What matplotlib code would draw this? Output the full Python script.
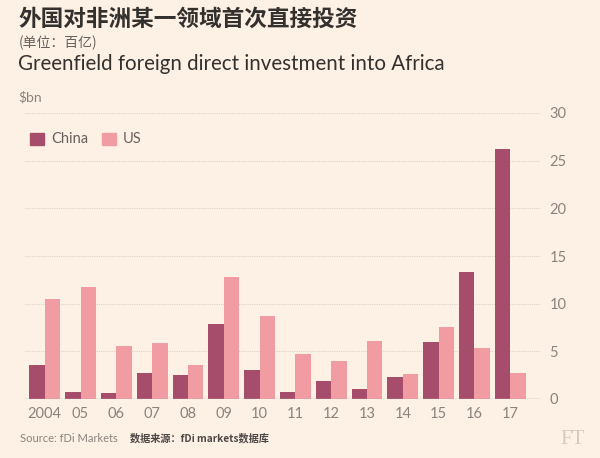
import numpy as np
import matplotlib.pyplot as plt
from matplotlib.patches import Rectangle

years = ['2004', '05', '06', '07', '08', '09', '10', '11', '12', '13', '14', '15', '16', '17']
china = [3.6, 0.7, 0.6, 2.7, 2.5, 7.9, 3.0, 0.7, 1.9, 1.0, 2.3, 6.0, 13.3, 26.2]
us = [10.5, 11.7, 5.6, 5.9, 3.6, 12.8, 8.7, 4.7, 4.0, 6.1, 2.6, 7.6, 5.4, 2.7]
yticks = [0, 5, 10, 15, 20, 25, 30]

bg = '#fdf1e5'
c_china = '#a64d6b'
c_us = '#f19ca3'
grey = '#8a837d'

plt.rcParams['font.family'] = ['Lato', 'Noto Sans CJK SC', 'DejaVu Sans']

fig = plt.figure(figsize=(6, 4.58), dpi=100, facecolor=bg)
ax = fig.add_axes([25 / 600, 59 / 458, 516 / 600, 286 / 458], facecolor=bg)

x = np.arange(len(years))
w = 0.43
ax.bar(x - w / 2, china, width=w, color=c_china, label='China')
ax.bar(x + w / 2, us, width=w, color=c_us, label='US')

ax.set_xlim(-0.55, 13.86)
ax.set_ylim(0, 30)
ax.set_yticks(yticks)
ax.set_xticks(x)
ax.set_xticklabels(years)
ax.yaxis.tick_right()
ax.tick_params(length=0, labelsize=10.5, colors=grey)
ax.tick_params(axis='y', pad=6)
ax.tick_params(axis='x', pad=6)
for s in ax.spines.values():
    s.set_visible(False)
ax.axhline(0, color='#b3aba4', lw=1, zorder=3)
for t in yticks[1:]:
    ax.axhline(t, color='#ddd3ca', lw=0.8, ls=(0, (1, 1)), zorder=0)

# legend
fig.patches.append(Rectangle((30 / 600, 1 - 145 / 458), 14 / 600, 12 / 458,
                             transform=fig.transFigure, color=c_china))
fig.text(51 / 600, 1 - 139 / 458, 'China', fontsize=10.5, color='#66605c', va='center')
fig.patches.append(Rectangle((102 / 600, 1 - 145 / 458), 14 / 600, 12 / 458,
                             transform=fig.transFigure, color=c_us))
fig.text(123 / 600, 1 - 139 / 458, 'US', fontsize=10.5, color='#66605c', va='center')

# titles
fig.text(18 / 600, 1 - 19 / 458, '外国对非洲某一领域首次直接投资', fontsize=16.3,
         fontweight='bold', color='#33302e', va='center',
         family=['Noto Sans CJK SC', 'DejaVu Sans'])
fig.text(19 / 600, 1 - 43 / 458, '(单位：百亿)', fontsize=10, color='#66605c', va='center',
         family=['Noto Sans CJK SC', 'DejaVu Sans'])
fig.text(18 / 600, 1 - 64 / 458, 'Greenfield foreign direct investment into Africa',
         fontsize=14.8, color='#33302e', va='center')
fig.text(18 / 600, 1 - 97 / 458, '$bn', fontsize=10, color=grey, va='center')

# source
fig.text(20 / 600, 1 - 438 / 458, 'Source: fDi Markets', fontsize=8, color=grey, va='center')
fig.text(130 / 600, 1 - 438 / 458, '数据来源：fDi markets数据库', fontsize=7.3, color='#4d4845',
         fontweight='bold', va='center', family=['Noto Sans CJK SC', 'DejaVu Sans'])
fig.text(573 / 600, 1 - 440 / 458, 'FT', fontsize=15, color='#d6cbc0', ha='center',
         va='center', family='Liberation Serif')

fig.savefig('out.png', dpi=100, facecolor=bg)
